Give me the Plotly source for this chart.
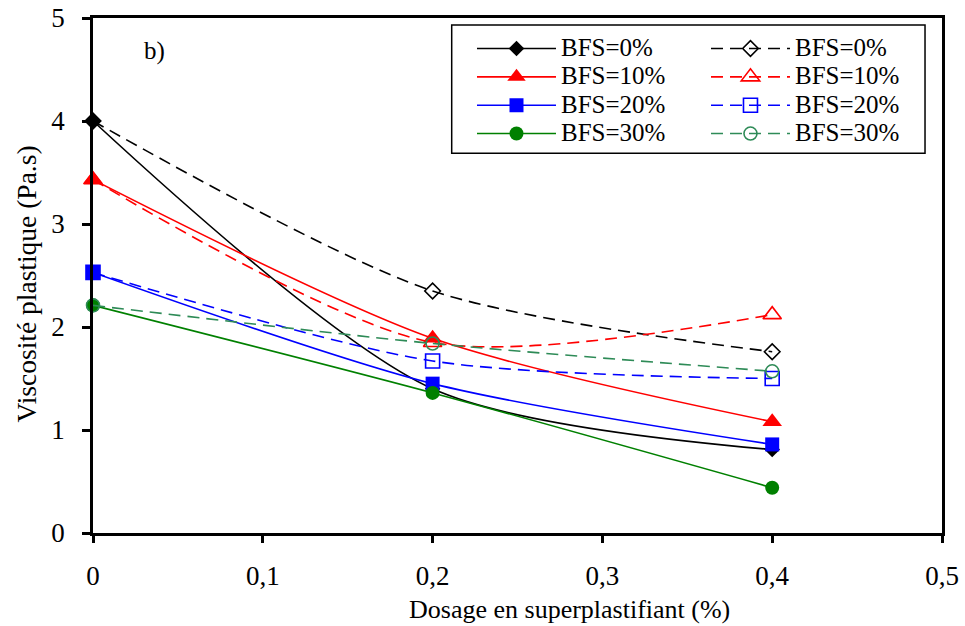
import plotly.graph_objects as go

x_vals = [0, 0.2, 0.4]
labels = ["BFS=0%", "BFS=10%", "BFS=20%", "BFS=30%"]

solid_0 = [4.0, 1.40, 0.81]
solid_10 = [3.43, 1.89, 1.08]
solid_20 = [2.53, 1.45, 0.86]
solid_30 = [2.21, 1.36, 0.44]

dashed_0 = [4.0, 2.35, 1.76]
dashed_10 = [3.43, 1.85, 2.12]
dashed_20 = [2.53, 1.67, 1.50]
dashed_30 = [2.21, 1.84, 1.57]

x_ticks = [0, 0.1, 0.2, 0.3, 0.4, 0.5]
x_tick_text = ["0", "0,1", "0,2", "0,3", "0,4", "0,5"]
y_ticks = [0, 1, 2, 3, 4, 5]

x_title = "Dosage en superplastifiant (%)"
y_title = "Viscosité plastique (Pa.s)"

FONT = "Liberation Serif"

solid_series = [solid_0, solid_10, solid_20, solid_30]
dashed_series = [dashed_0, dashed_10, dashed_20, dashed_30]
solid_colors = ["#000000", "#FF0000", "#0000FF", "#008000"]
dashed_colors = ["#000000", "#FF0000", "#0000FF", "#2E8B57"]
solid_symbols = ["diamond", "triangle-up", "square", "circle"]
dashed_symbols = ["diamond-open", "triangle-up-open", "square-open", "circle-open"]
solid_sizes = [12, 17, 14, 14]
dashed_sizes = [12, 16, 14, 13]


def legend_name(t):
    return '<span style="font-size:25px">' + t + '</span>'


fig = go.Figure()

for lab, ys, c, s, sz in zip(labels, dashed_series, dashed_colors, dashed_symbols, dashed_sizes):
    pass

for lab, ys, c, s, sz in zip(labels, solid_series, solid_colors, solid_symbols, solid_sizes):
    fig.add_trace(go.Scatter(
        x=x_vals, y=ys, name=legend_name(lab), mode="lines+markers",
        line=dict(color=c, width=1.6, shape="spline", smoothing=0.8),
        marker=dict(symbol=s, size=sz, color=c),
        legend="legend", cliponaxis=False,
    ))

for lab, ys, c, s, sz in zip(labels, dashed_series, dashed_colors, dashed_symbols, dashed_sizes):
    fig.add_trace(go.Scatter(
        x=x_vals, y=ys, name=legend_name(lab), mode="lines+markers",
        line=dict(color=c, width=1.6, shape="spline", smoothing=0.8, dash="12px,7px"),
        marker=dict(symbol=s, size=sz, color=c, line=dict(color=c, width=1.6)),
        legend="legend2", cliponaxis=False,
    ))

fig.add_annotation(x=0.036, y=4.68, text="b)", showarrow=False,
                   font=dict(family=FONT, size=25, color="black"))

# axis titles (positioned as in the reference, slightly off-centre)
fig.add_annotation(xref="paper", yref="paper", x=0.5607, y=-0.1495,
                   text=x_title, showarrow=False, xanchor="center", yanchor="middle",
                   font=dict(family=FONT, size=26, color="black"))
fig.add_annotation(xref="paper", yref="paper", x=-0.0789, y=0.4825,
                   text=y_title, showarrow=False, textangle=-90,
                   xanchor="center", yanchor="middle",
                   font=dict(family=FONT, size=27.5, color="black"))

# legend frame
fig.add_shape(type="rect", xref="paper", yref="paper",
              x0=0.4225, x1=0.98, y0=0.7373, y1=0.9864,
              line=dict(color="black", width=1.5), fillcolor="rgba(0,0,0,0)")

legend_common = dict(
    font=dict(family=FONT, size=19.5, color="black"),
    bgcolor="rgba(255,255,255,0)", borderwidth=0,
    itemwidth=79, tracegroupgap=0, yanchor="top", xanchor="left",
    traceorder="normal",
)

fig.update_layout(
    width=965, height=626,
    margin=dict(l=93, r=23, t=18, b=93),
    paper_bgcolor="white", plot_bgcolor="white",
    font=dict(family=FONT, size=22, color="black"),
    showlegend=True,
    legend=dict(x=0.4464, y=0.978, **legend_common),
    legend2=dict(x=0.7220, y=0.978, **legend_common),
    xaxis=dict(
        range=[0, 0.5], tickvals=x_ticks, ticktext=x_tick_text,
        showgrid=False, zeroline=False, automargin=False,
        showline=True, linecolor="black", linewidth=2.5, mirror=True,
        ticks="outside", ticklen=7, tickwidth=2.5, tickcolor="black",
        tickfont=dict(family=FONT, size=27, color="black"),
        ticklabelstandoff=10,
    ),
    yaxis=dict(
        range=[0, 5], tickvals=y_ticks,
        showgrid=False, zeroline=False, automargin=False,
        showline=True, linecolor="black", linewidth=2.5, mirror=True,
        ticks="outside", ticklen=8, tickwidth=2.5, tickcolor="black",
        tickfont=dict(family=FONT, size=27, color="black"),
        ticklabelstandoff=12,
    ),
)

fig.write_html("out.html", config={"displayModeBar": False},
               post_script="document.body.style.margin='0px';")
